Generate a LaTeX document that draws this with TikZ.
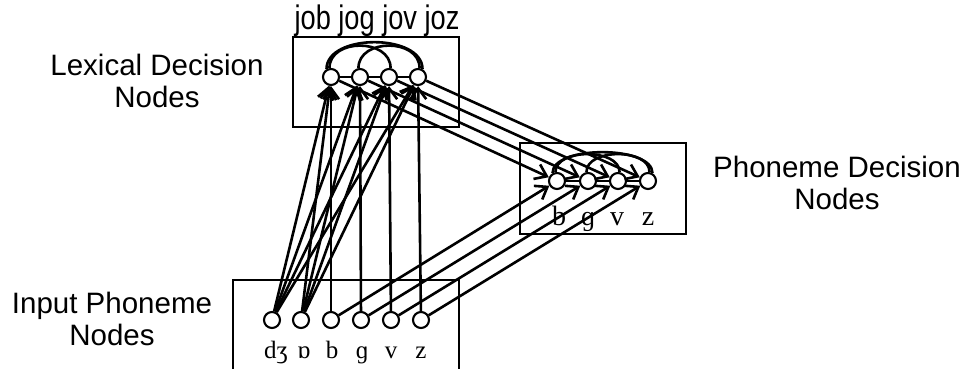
\documentclass[tikz,border=0pt]{standalone}
\usepackage{fontspec}
\setmainfont{Liberation Sans}
\newfontfamily\ipafont{Liberation Serif}
\newfontfamily\narrowfont[FakeStretch=0.8]{Liberation Sans}
\usetikzlibrary{arrows.meta}
\begin{document}
\begin{tikzpicture}[x=1pt,y=-1pt,
  unit/.style={circle,draw,line width=2.1pt,minimum size=16pt,inner sep=0pt},
  box/.style={draw,line width=2.3pt},
  conn/.style={line width=2.6pt},
  arr/.style={conn,-{Straight Barb[length=11pt,width=16pt,line width=2.6pt]}},
  lab/.style={font=\fontsize{29.5}{32}\selectfont,inner sep=0pt,anchor=base},
  ipasmall/.style={font=\ipafont\fontsize{25}{27}\selectfont,inner sep=0pt,anchor=base},
  ipabig/.style={font=\ipafont\fontsize{28}{30}\selectfont,inner sep=0pt,anchor=base},
  words/.style={font=\narrowfont\fontsize{34}{38}\selectfont,inner sep=0pt,anchor=base},
]
\useasboundingbox (0,0) rectangle (963,369);

% boxes
\draw[box] (293,37) rectangle (459,127);
\draw[box] (520,143) rectangle (686,234);
\draw[box] (233,375) -- (233,280) -- (459,280) -- (459,375);

% side labels
\node[lab] (lexa) at (157,75) {Lexical Decision};
\node[lab] (lexb) at (157,107) {Nodes};
\node[lab] (phoa) at (837,177) {Phoneme Decision};
\node[lab] (phob) at (837,209) {Nodes};
\node[lab] (inpa) at (112,313) {Input Phoneme};
\node[lab] (inpb) at (112,345) {Nodes};

% word labels
\node[words] (wordlab) at (377,30) {job jog jov joz};

% lexical nodes
\node[unit] (l1) at (331,77) {};
\node[unit] (l2) at (360,77) {};
\node[unit] (l3) at (389,77) {};
\node[unit] (l4) at (418,77) {};

% phoneme decision nodes
\node[unit] (p1) at (557,181) {};
\node[unit] (p2) at (588,181) {};
\node[unit] (p3) at (618,181) {};
\node[unit] (p4) at (648,181) {};
\node[ipabig] (pt1) at (559,225) {b};
\node[ipabig] (pt2) at (588,225) {ɡ};
\node[ipabig] (pt3) at (617,225) {v};
\node[ipabig] (pt4) at (648,225) {z};

% input nodes
\node[unit] (i1) at (272,320) {};
\node[unit] (i2) at (301,320) {};
\node[unit] (i3) at (331,320) {};
\node[unit] (i4) at (361,320) {};
\node[unit] (i5) at (391,320) {};
\node[unit] (i6) at (421,320) {};
\node[ipasmall] (it1) at (276,358) {dʒ};
\node[ipasmall] (it2) at (304,358) {ɒ};
\node[ipasmall] (it3) at (332,358) {b};
\node[ipasmall] (it4) at (362,358) {ɡ};
\node[ipasmall] (it5) at (391,358) {v};
\node[ipasmall] (it6) at (421,358) {z};

% lateral connections (lexical)
\draw[conn] (l1) -- (l2);
\draw[conn] (l2) -- (l3);
\draw[conn] (l3) -- (l4);
\draw[conn] (l1.120) .. controls +(0,-36) and +(0,-36) .. (l4.60);
\draw[conn] (l1.100) .. controls +(0,-30) and +(0,-30) .. (l3.80);
\draw[conn] (l2.100) .. controls +(0,-30) and +(0,-30) .. (l4.80);

% lateral connections (phoneme)
\draw[conn] (p1) -- (p2);
\draw[conn] (p2) -- (p3);
\draw[conn] (p3) -- (p4);
\draw[conn] (p1.120) .. controls +(0,-28) and +(0,-28) .. (p4.60);
\draw[conn] (p1.100) .. controls +(0,-24) and +(0,-24) .. (p3.80);
\draw[conn] (p2.100) .. controls +(0,-24) and +(0,-24) .. (p4.80);

% input -> lexical
\foreach \l in {l1,l2,l3,l4} {
  \draw[arr] (i1) -- (\l);
  \draw[arr] (i2) -- (\l);
}
\draw[arr] (i3) -- (l1);
\draw[arr] (i4) -- (l2);
\draw[arr] (i5) -- (l3);
\draw[arr] (i6) -- (l4);

% lexical -> phoneme
\draw[arr] (l1) -- (p1);
\draw[arr] (l2) -- (p2);
\draw[arr] (l3) -- (p3);
\draw[arr] (l4) -- (p4);

% input -> phoneme
\draw[arr] (i3) -- (p1);
\draw[arr] (i4) -- (p2);
\draw[arr] (i5) -- (p3);
\draw[arr] (i6) -- (p4);
\end{tikzpicture}
\end{document}
